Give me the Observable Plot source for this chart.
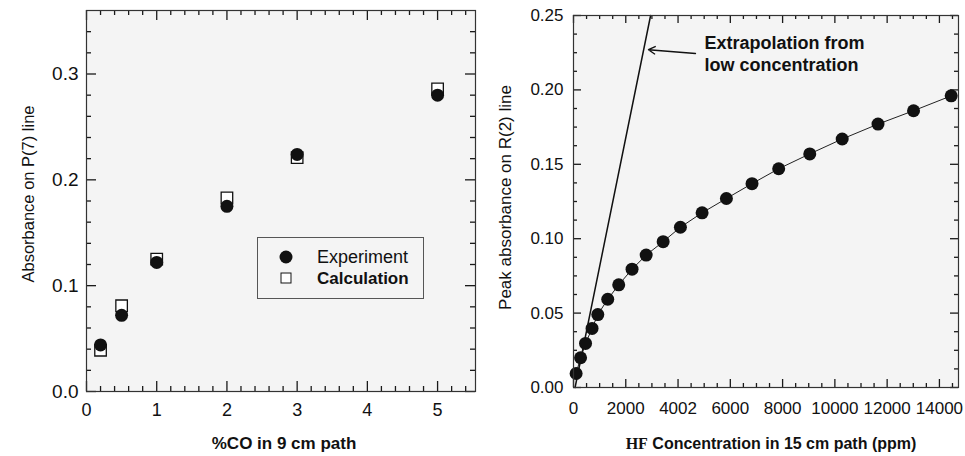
<!DOCTYPE html>
<html><head><meta charset="utf-8">
<script src="https://cdn.jsdelivr.net/npm/d3@7"></script>
<script src="https://cdn.jsdelivr.net/npm/@observablehq/plot@0.6"></script>
<style>
html,body{margin:0;padding:0;background:#fff;}
#wrap{position:relative;width:965px;height:456px;overflow:hidden;font-family:"Liberation Sans",Arial,sans-serif;color:#111;}
.panel{position:absolute;top:0;}
.abs{position:absolute;white-space:nowrap;line-height:1;}
.c{transform:translate(-50%,-50%);}
.v{transform:translateY(-50%);}
</style></head><body><div id="wrap"></div>
<script>
// ---- Left panel data: CO absorbance on P(7) line ----
const coPercent      = [0.2, 0.5, 1, 2, 3, 5];
const experimentAbs  = [0.044, 0.072, 0.122, 0.175, 0.224, 0.280];
const calculationAbs = [0.039, 0.081, 0.125, 0.183, 0.221, 0.286];
const coTicks        = [0, 1, 2, 3, 4, 5];
const coTickLabels   = ["0", "1", "2", "3", "4", "5"];
const coMinorTicks   = [0.2,0.4,0.6,0.8,1.2,1.4,1.6,1.8,2.2,2.4,2.6,2.8,3.2,3.4,3.6,3.8,4.2,4.4,4.6,4.8,5.2,5.4];
const absTicksL      = [0, 0.1, 0.2, 0.3];
const absTickLabelsL = ["0.0", "0.1", "0.2", "0.3"];
const absMinorTicksL = [0.02,0.04,0.06,0.08,0.12,0.14,0.16,0.18,0.22,0.24,0.26,0.28,0.32,0.34];

// ---- Right panel data: HF absorbance on R(2) line ----
const hfPpm = [100, 270, 460, 710, 930, 1310, 1730, 2240, 2780, 3430, 4090, 4920, 5850, 6830, 7850, 9040, 10280, 11650, 13010, 14450];
const hfAbs = [0.0094, 0.020, 0.0296, 0.0397, 0.049, 0.0593, 0.069, 0.0795, 0.089, 0.098, 0.1077, 0.1174, 0.127, 0.137, 0.147, 0.157, 0.167, 0.177, 0.186, 0.196];
const extrapPpm = [60, 2950];
const extrapAbs = [0, 0.25];
const arrowPpm  = [4666, 2869];
const arrowAbs  = [0.2245, 0.227];
const noteText  = "Extrapolation from\nlow concentration";
const notePpm   = 5010;
const noteAbs   = 0.238;
const hfTicks        = [0, 2000, 4000, 6000, 8000, 10000, 12000, 14000];
const hfTickLabels   = ["0", "2000", "4002", "6000", "8000", "10000", "12000", "14000"];
const hfMinorTicks   = [500,1000,1500,2500,3000,3500,4500,5000,5500,6500,7000,7500,8500,9000,9500,10500,11000,11500,12500,13000,13500,14500];
const absTicksR      = [0, 0.05, 0.10, 0.15, 0.20, 0.25];
const absTickLabelsR = ["0.00", "0.05", "0.10", "0.15", "0.20", "0.25"];
const absMinorTicksR = [0.0125,0.025,0.0375,0.0625,0.075,0.0875,0.1125,0.125,0.1375,0.1625,0.175,0.1875,0.2125,0.225,0.2375];

const FONT = '"Liberation Sans", Arial, sans-serif';
const INK = "#1a1a1a";

// inward-pointing ticks on all four sides of the frame; len is in pixels,
// converted to data units from the domains and the frame size
function frameTicks(xs, ys, len, xd, yd, fw, fh) {
  const ky = len / fh * (yd[1] - yd[0]);
  const kx = len / fw * (xd[1] - xd[0]);
  const st = {stroke: INK, strokeWidth: 1.3};
  return [
    Plot.ruleX(xs, {x: d => d, y1: yd[0], y2: yd[0] + ky, ...st}),
    Plot.ruleX(xs, {x: d => d, y1: yd[1] - ky, y2: yd[1], ...st}),
    Plot.ruleY(ys, {y: d => d, x1: xd[0], x2: xd[0] + kx, ...st}),
    Plot.ruleY(ys, {y: d => d, x1: xd[1] - kx, x2: xd[1], ...st})
  ];
}

const wrap = document.getElementById("wrap");

// ---------- Left panel ----------
{
  const W = 480, H = 456, mt = 10, mr = 5, mb = 65, ml = 86;
  const fw = W - ml - mr, fh = H - mt - mb;
  const xd = [0, 5.54], yd = [0, 0.36];
  const rows = coPercent.map((x, i) => ({x, exp: experimentAbs[i], calc: calculationAbs[i]}));
  const p = Plot.plot({
    width: W, height: H, marginTop: mt, marginRight: mr, marginBottom: mb, marginLeft: ml,
    x: {domain: xd}, y: {domain: yd},
    style: {background: "transparent", fontFamily: FONT, fontSize: "18px", color: "#111", overflow: "visible"},
    marks: [
      Plot.frame({fill: "#f4f4f4", stroke: null}),
      ...frameTicks(coTicks, absTicksL, 10, xd, yd, fw, fh),
      ...frameTicks(coMinorTicks, absMinorTicksL, 5, xd, yd, fw, fh),
      Plot.axisX({ticks: coTicks, tickSize: 0, tickPadding: 12, fontSize: 18, label: null,
        tickFormat: d => coTickLabels[coTicks.indexOf(d)]}),
      Plot.axisY({ticks: absTicksL, tickSize: 0, tickPadding: 8, fontSize: 19, label: null,
        tickFormat: d => absTickLabelsL[absTicksL.indexOf(d)]}),
      Plot.text(["Absorbance on P(7) line"], {frameAnchor: "left", textAnchor: "middle", lineAnchor: "middle",
        dx: -58, dy: -7, rotate: -90, fontSize: 16.5, fill: "#111"}),
      Plot.dot(rows, {x: "x", y: "calc", symbol: "square", r: 6.5, fill: "#fff", stroke: "#111", strokeWidth: 1.3}),
      Plot.dot(rows, {x: "x", y: "exp", r: 6.5, fill: "#111", stroke: "none"}),
      Plot.frame({stroke: "#333", strokeWidth: 1.2})
    ]
  });
  p.classList.add("panel"); p.style.left = "0px";
  wrap.appendChild(p);
}

// ---------- Right panel ----------
{
  const W = 485, H = 456, mt = 15, mr = 7, mb = 69, ml = 93;
  const fw = W - ml - mr, fh = H - mt - mb;
  const xd = [0, 14730], yd = [0, 0.25];
  const pts = hfPpm.map((x, i) => ({x, y: hfAbs[i]}));
  const ext = extrapPpm.map((x, i) => ({x, y: extrapAbs[i]}));
  const arr = [{x1: arrowPpm[0], y1: arrowAbs[0], x2: arrowPpm[1], y2: arrowAbs[1]}];
  const p = Plot.plot({
    width: W, height: H, marginTop: mt, marginRight: mr, marginBottom: mb, marginLeft: ml,
    x: {domain: xd}, y: {domain: yd},
    style: {background: "transparent", fontFamily: FONT, fontSize: "17px", color: "#111", overflow: "visible"},
    marks: [
      Plot.frame({fill: "#f4f4f4", stroke: null}),
      ...frameTicks(hfTicks, absTicksR, 8, xd, yd, fw, fh),
      ...frameTicks(hfMinorTicks, absMinorTicksR, 4, xd, yd, fw, fh),
      Plot.axisX({ticks: hfTicks, tickSize: 0, tickPadding: 14, fontSize: 17, label: null,
        tickFormat: d => hfTickLabels[hfTicks.indexOf(d)]}),
      Plot.axisY({ticks: absTicksR, tickSize: 0, tickPadding: 10, fontSize: 17, label: null,
        tickFormat: d => absTickLabelsR[absTicksR.indexOf(d)]}),
      Plot.text(["Peak absorbance on R(2) line"], {frameAnchor: "left", textAnchor: "middle", lineAnchor: "middle",
        dx: -68, dy: -4, rotate: -90, fontSize: 17, fill: "#111"}),
      Plot.line(ext, {x: "x", y: "y", stroke: "#111", strokeWidth: 1.5}),
      Plot.arrow(arr, {x1: "x1", y1: "y1", x2: "x2", y2: "y2", stroke: "#111", strokeWidth: 1.4, headLength: 8}),
      Plot.text([noteText], {x: () => notePpm, y: () => noteAbs, textAnchor: "start", lineAnchor: "top",
        fontSize: 18, fontWeight: "bold", lineHeight: 1.22, fill: "#111"}),
      Plot.line(pts, {x: "x", y: "y", stroke: "#222", strokeWidth: 1}),
      Plot.dot(pts, {x: "x", y: "y", r: 6.5, fill: "#111", stroke: "none"}),
      Plot.frame({stroke: "#333", strokeWidth: 1.2})
    ]
  });
  p.classList.add("panel"); p.style.left = "480px";
  wrap.appendChild(p);
}

// ---------- Titles and legend (page text) ----------
wrap.insertAdjacentHTML("beforeend", `
  <div class="abs c" style="left:284px;top:443px;font-size:17px;font-weight:bold;">%CO in 9 cm path</div>
  <div class="abs c" style="left:771px;top:444px;font-size:16px;font-weight:bold;"><span style="font-family:'Liberation Serif','DejaVu Serif',serif;">HF</span> Concentration in 15 cm path (ppm)</div>
  <div class="abs" style="left:257px;top:237px;width:165px;height:60px;border:1px solid #555;"></div>
  <div class="abs c" style="left:286px;top:257px;width:13px;height:13px;border-radius:50%;background:#111;"></div>
  <div class="abs c" style="left:286px;top:278px;width:9px;height:9px;border:1.4px solid #111;background:#fff;"></div>
  <div class="abs v" style="left:317px;top:257px;font-size:18px;">Experiment</div>
  <div class="abs v" style="left:317px;top:278px;font-size:17px;font-weight:bold;">Calculation</div>
`);
</script></body></html>
